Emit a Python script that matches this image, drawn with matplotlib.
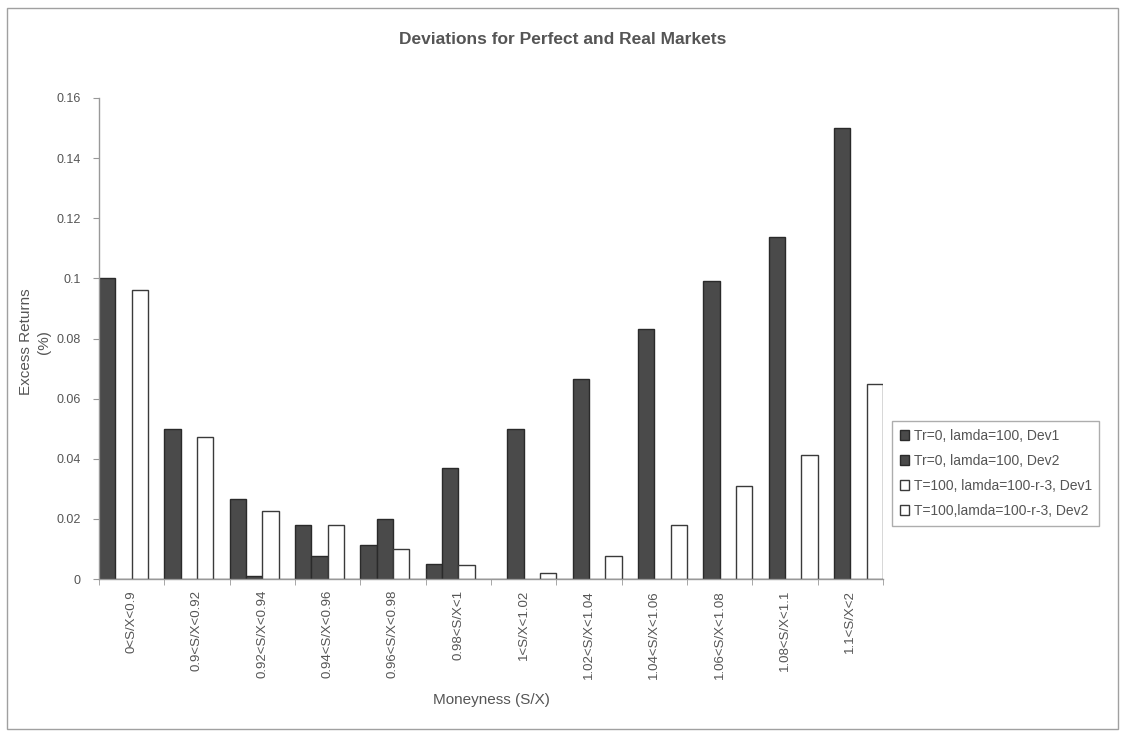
import matplotlib
matplotlib.use("Agg")
import matplotlib.pyplot as plt
import numpy as np
from matplotlib.patches import Rectangle

# Moneyness buckets (S/X)
categories = ["0<S/X<0.9", "0.9<S/X<0.92", "0.92<S/X<0.94", "0.94<S/X<0.96",
              "0.96<S/X<0.98", "0.98<S/X<1", "1<S/X<1.02", "1.02<S/X<1.04",
              "1.04<S/X<1.06", "1.06<S/X<1.08", "1.08<S/X<1.1", "1.1<S/X<2"]

# Excess returns (%) per series
perfect_dev1 = [0.100, 0.050, 0.0266, 0.018, 0.0114, 0.0050, 0, 0, 0, 0, 0, 0]
perfect_dev2 = [0, 0, 0.0009, 0.0078, 0.0200, 0.0370, 0.050, 0.0666, 0.0832, 0.0990, 0.1138, 0.150]
real_dev1 = [0.0961, 0.0472, 0.0226, 0.0178, 0.0100, 0.0046, 0, 0, 0, 0, 0, 0]
real_dev2 = [0, 0, 0, 0, 0, 0, 0.0019, 0.0077, 0.0178, 0.0310, 0.0412, 0.0650]

series_labels = ["Tr=0, lamda=100, Dev1", "Tr=0, lamda=100, Dev2",
                 "T=100, lamda=100-r-3, Dev1", "T=100,lamda=100-r-3, Dev2"]

text_color = "#555555"
plt.rcParams["font.family"] = ["Liberation Sans", "DejaVu Sans"]

W, H = 1121, 732
fig = plt.figure(figsize=(W / 100, H / 100), dpi=100)
fig.patch.set_facecolor("white")

# chart-area frame
fig.patches.append(Rectangle((7 / W, 1 - 729 / H), (1118 - 7) / W, (729 - 8) / H,
                             transform=fig.transFigure, fill=False,
                             edgecolor="#a0a0a0", linewidth=1.0))

ax = fig.add_axes([99 / W, 1 - 579 / H, 784 / W, (579 - 98) / H])

x = np.arange(len(categories))
w = 0.25
styles = [
    dict(color="#4a4a4a", edgecolor="#2a2a2a"),
    dict(color="#4a4a4a", edgecolor="#2a2a2a"),
    dict(color="white", edgecolor="#3a3a3a"),
    dict(color="white", edgecolor="#3a3a3a"),
]
data = [perfect_dev1, perfect_dev2, real_dev1, real_dev2]
handles = []
for i, (vals, st, lab) in enumerate(zip(data, styles, series_labels)):
    bars = ax.bar(x + (i - 1.5) * w, vals, width=w, facecolor=st["color"],
                  edgecolor=st["edgecolor"], linewidth=1.0, label=lab)
    handles.append(bars)

ax.set_xlim(-0.5, len(categories) - 0.5)
ax.set_ylim(0, 0.16)
ax.set_yticks(np.arange(0, 0.161, 0.02))
ax.set_yticklabels(["0", "0.02", "0.04", "0.06", "0.08", "0.1", "0.12", "0.14", "0.16"])
ax.set_xticks(x)
ax.set_xticklabels(categories, rotation=90, va="top")
ax.set_xticks(np.arange(-0.5, len(categories), 1.0), minor=True)
ax.tick_params(axis="x", which="major", length=0, pad=8, labelsize=9.5, colors=text_color)
ax.tick_params(axis="x", which="minor", length=4, color="#999999")
ax.tick_params(axis="y", length=4, color="#999999", labelsize=9, colors=text_color, pad=9)

for s in ["top", "right"]:
    ax.spines[s].set_visible(False)
for s in ["left", "bottom"]:
    ax.spines[s].set_color("#999999")
    ax.spines[s].set_linewidth(1.0)

fig.text(563 / W, 1 - 40 / H, "Deviations for Perfect and Real Markets",
         ha="center", va="center", fontsize=12.5, fontweight="bold", color=text_color)
fig.text(35 / W, 1 - 342 / H, "Excess Returns\n(%)", rotation=90, ha="center",
         va="center", fontsize=11, color=text_color, linespacing=1.45,
         multialignment="center")
fig.text(491 / W, 1 - 700 / H, "Moneyness (S/X)", ha="center", va="center",
         fontsize=11, color=text_color)

leg = fig.legend(handles=handles, labels=series_labels, loc="upper left",
                 bbox_to_anchor=(892 / W, 1 - 421 / H), borderaxespad=0,
                 fontsize=10, frameon=True, fancybox=False,
                 handlelength=0.7, handleheight=0.7, handletextpad=0.3,
                 labelspacing=0.8, borderpad=0.55, labelcolor=text_color)
leg.get_frame().set_edgecolor("#999999")
leg.get_frame().set_linewidth(1.0)

fig.savefig("out.png", dpi=100, facecolor="white")
